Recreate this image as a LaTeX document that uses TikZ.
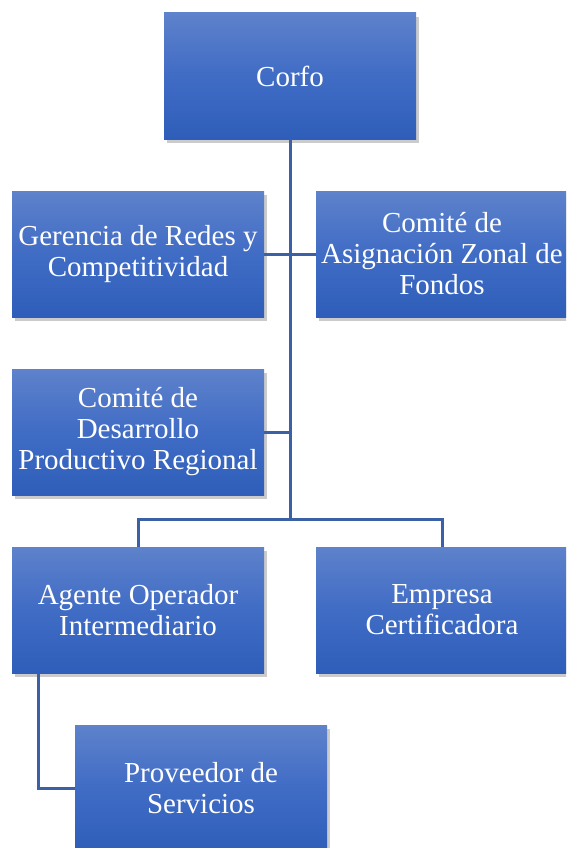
\documentclass[tikz,border=0pt]{standalone}
\usepackage{fontspec}
\setmainfont{Liberation Serif}
\usetikzlibrary{shadows}
\definecolor{boxtop}{RGB}{94,130,203}
\definecolor{boxmid}{RGB}{64,108,197}
\definecolor{boxbot}{RGB}{46,94,185}
\definecolor{linecol}{RGB}{59,96,165}
\tikzset{
  orgbox/.style={rectangle, minimum width=252pt, minimum height=126pt, inner sep=0pt,
    top color=boxtop, bottom color=boxbot, middle color=boxmid, text=white, align=center,
    font=\rmfamily\fontsize{29}{31}\selectfont,
    drop shadow={shadow xshift=3pt, shadow yshift=-4pt, fill=black!45, opacity=0.45}},
  link/.style={draw=linecol, line width=3pt}
}
\begin{document}
\begin{tikzpicture}[x=1pt,y=-1pt]
\useasboundingbox (0,0) rectangle (566,848);
\clip (0,0) rectangle (566,848);
\fill[white] (0,0) rectangle (566,848);
\node[orgbox] (corfo) at (290,76) {Corfo};
\node[orgbox] (ger) at (138,254) {Gerencia de Redes y\\Competitividad};
\node[orgbox] (caz) at (442,254) {Comité de\\Asignación Zonal de\\Fondos};
\node[orgbox] (cdp) at (138,432) {Comité de\\Desarrollo\\Productivo Regional};
\node[orgbox] (age) at (138,610) {Agente Operador\\Intermediario};
\node[orgbox] (emp) at (442,610) {Empresa\\Certificadora};
\node[orgbox] (pro) at (201,788) {Proveedor de\\Servicios};
\coordinate (jtop) at (290,519);
\coordinate (agestart) at ([xshift=-100pt]age.south);
\draw[link] (corfo.south) -- (jtop);
\draw[link] (ger.east) -- (caz.west);
\draw[link] (cdp.east) -- (cdp.east -| corfo.south);
\draw[link] (age.north) |- (jtop) -| (emp.north);
\draw[link] (agestart) |- (pro.west);
\end{tikzpicture}
\end{document}
